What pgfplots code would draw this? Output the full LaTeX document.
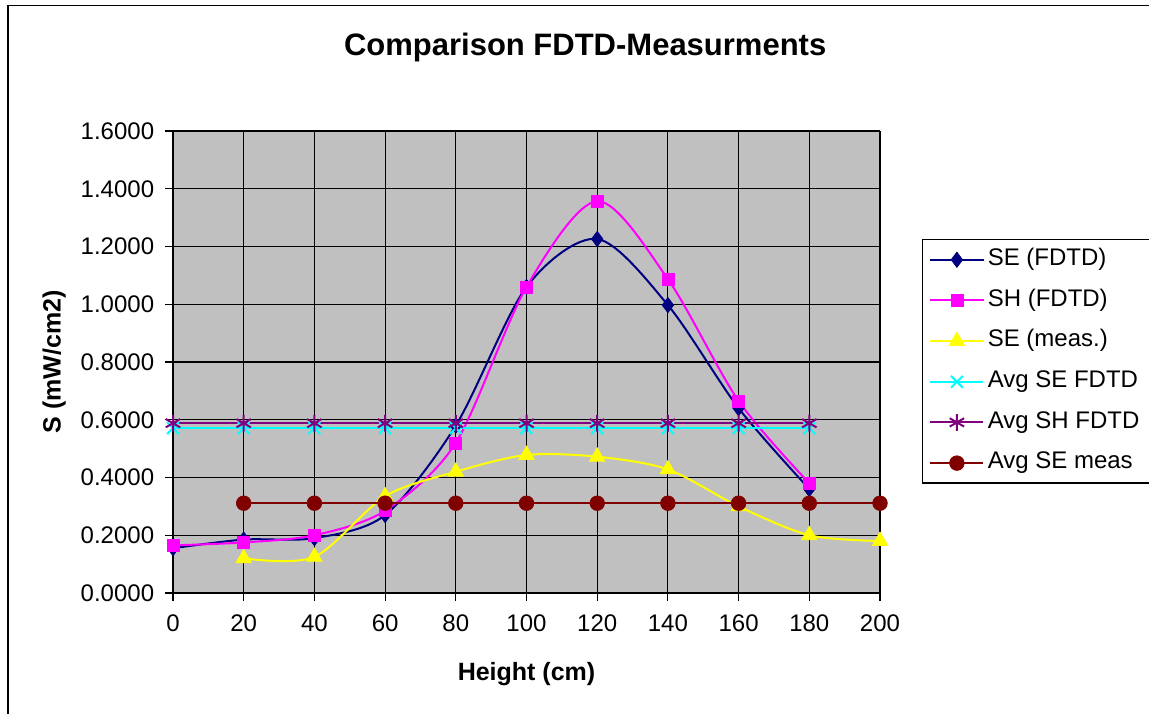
\documentclass[border=0pt]{standalone}
\usepackage{fontspec}
\setmainfont{Liberation Sans}
\usepackage{pgfplots}
\pgfplotsset{compat=1.18}

\definecolor{plotbg}{HTML}{C0C0C0}
\definecolor{sefdtd}{HTML}{000080}
\definecolor{shfdtd}{HTML}{FF00FF}
\definecolor{semeas}{HTML}{FFFF00}
\definecolor{avgse}{HTML}{00FFFF}
\definecolor{avgsh}{HTML}{800080}
\definecolor{avgmeas}{HTML}{800000}

\newcommand{\tickfont}{\fontsize{14.4}{17}\selectfont}

\begin{document}
\begin{tikzpicture}
\begin{axis}[
    at={(103.8pt,72pt)}, anchor=south west,
    scale only axis,
    width=424.2pt, height=277.2pt,
    xmin=0, xmax=200, ymin=0, ymax=1.6,
    xtick={0,20,...,200},
    ytick={0,0.2,...,1.6},
    axis lines=left,
    axis line style={-, black, line width=0.8pt},
    tick align=outside,
    tick pos=left,
    major tick length=4.8pt,
    tick style={black, line width=0.7pt},
    grid=major,
    grid style={black, line width=0.7pt},
    axis background/.style={fill=plotbg},
    clip=false,
    /pgf/number format/assume math mode=true,
    ticklabel style={font=\tickfont},
    yticklabel={\pgfmathprintnumber[fixed,fixed zerofill,precision=4]{\tick}},
    yticklabel style={xshift=-3pt},
    xticklabel style={yshift=-5pt},
    title={\textbf{Comparison FDTD-Measurments}},
    title style={at={(0.583,1.16)}, anchor=center, font=\fontsize{18.6}{22}\selectfont},
    xlabel={\textbf{Height (cm)}},
    xlabel style={at={(0.5,-0.176)}, anchor=center, font=\fontsize{15}{18}\selectfont},
    ylabel={\textbf{S (mW/cm2)}},
    ylabel style={at={(-0.168,0.5)}, anchor=center, rotate=0, font=\fontsize{15}{18}\selectfont},
    every axis plot/.append style={line width=1.2pt},
    legend style={
        at={(1.0594,0.766)}, anchor=north west,
        draw=black, line width=0.8pt, fill=white,
        font=\tickfont,
        inner xsep=4pt, inner ysep=5pt,
        row sep=10.4pt,
        nodes={inner ysep=0pt, text height=10.5pt, text depth=3.5pt},
    },
    legend cell align=left,
    legend image code/.code={
        \draw[mark repeat=2, mark phase=2, #1]
            plot coordinates {(0cm,0cm) (0.56cm,0cm) (1.12cm,0cm)};
    },
]
\addplot[color=sefdtd, smooth, mark=diamond*, mark size=4.6pt,
    mark options={solid, fill=sefdtd, line width=0.4pt}]
    coordinates {(0,0.155) (20,0.185) (40,0.190) (60,0.270) (80,0.580)
                 (100,1.060) (120,1.226) (140,0.997) (160,0.640) (180,0.360)};
\addlegendentry{SE (FDTD)}
\addplot[color=shfdtd, smooth, mark=square*, mark size=3.6pt,
    mark options={solid, fill=shfdtd, line width=0.4pt}]
    coordinates {(0,0.165) (20,0.175) (40,0.200) (60,0.285) (80,0.520)
                 (100,1.060) (120,1.357) (140,1.087) (160,0.665) (180,0.380)};
\addlegendentry{SH (FDTD)}
\addplot[color=semeas, smooth, mark=triangle*, mark size=5.4pt,
    mark options={solid, fill=semeas, line width=0.4pt}]
    coordinates {(20,0.120) (40,0.125) (60,0.335) (80,0.420) (100,0.478)
                 (120,0.472) (140,0.428) (160,0.300) (180,0.200) (200,0.180)};
\addlegendentry{SE (meas.)}
\addplot[color=avgse, mark=x, mark size=5pt, mark options={solid, line width=1.2pt}]
    coordinates {(0,0.571) (20,0.571) (40,0.571) (60,0.571) (80,0.571)
                 (100,0.571) (120,0.571) (140,0.571) (160,0.571) (180,0.571)};
\addlegendentry{Avg SE FDTD}
\addplot[color=avgsh, mark=asterisk, mark size=5pt, mark options={solid, line width=1.2pt}]
    coordinates {(0,0.588) (20,0.588) (40,0.588) (60,0.588) (80,0.588)
                 (100,0.588) (120,0.588) (140,0.588) (160,0.588) (180,0.588)};
\addlegendentry{Avg SH FDTD}
\addplot[color=avgmeas, mark=*, mark size=4.4pt,
    mark options={solid, fill=avgmeas, line width=0.4pt}]
    coordinates {(20,0.311) (40,0.311) (60,0.311) (80,0.311) (100,0.311)
                 (120,0.311) (140,0.311) (160,0.311) (180,0.311) (200,0.311)};
\addlegendentry{Avg SE meas}
\end{axis}
\draw[black, line width=1pt] (4.9pt,-20pt) -- (4.9pt,424.4pt) -- (720pt,424.4pt);
\pgfresetboundingbox
\path[use as bounding box] (0,0) rectangle (689.4pt,427.8pt);
\end{tikzpicture}
\end{document}
